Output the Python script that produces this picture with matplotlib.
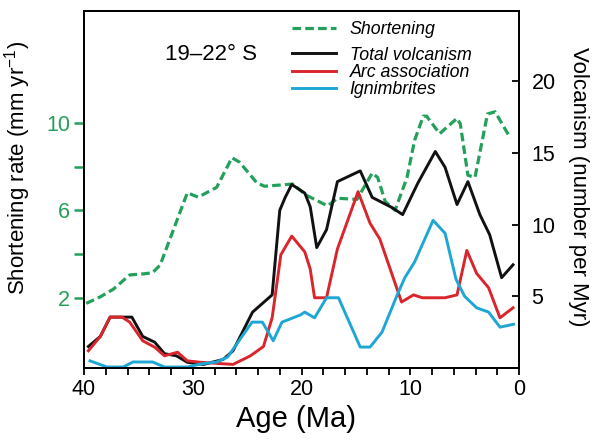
import matplotlib
matplotlib.use("Agg")
import matplotlib.pyplot as plt
from matplotlib.ticker import MultipleLocator, FixedLocator, NullFormatter

plt.rcParams["font.family"] = ["Liberation Sans", "DejaVu Sans"]
plt.rcParams["mathtext.fontset"] = "custom"
plt.rcParams["mathtext.rm"] = "Liberation Sans"

GREEN = "#23a05a"
RED = "#d9252b"
BLUE = "#1ea6d4"
BLACK = "#111111"

# shortening rate (mm/yr), left axis
age_short = [39.8, 38.5, 37.3, 35.8, 34.5, 33.7, 33.0, 30.5, 29.5, 27.8, 26.4,
             25.7, 24.1, 23.4, 20.8, 19.6, 17.6, 16.7, 14.9, 13.5, 13.0, 12.3,
             11.4, 10.3, 9.6, 8.8, 8.5, 7.3, 5.7, 5.4, 4.7, 4.05, 2.9, 2.2, 0.8]
shortening = [1.75, 2.05, 2.4, 3.05, 3.1, 3.15, 3.5, 6.8, 6.6, 7.05, 8.4,
              8.2, 7.25, 7.1, 7.2, 6.7, 6.2, 6.55, 6.5, 7.7, 7.5, 6.4,
              6.0, 7.5, 9.2, 10.3, 10.3, 9.5, 10.2, 9.95, 7.6, 7.5, 10.4, 10.5, 9.3]

# volcanism (number per Myr), right axis
age_total = [39.6, 38.5, 37.6, 35.6, 34.6, 33.5, 32.6, 31.5, 30.5, 29.0, 27.2,
             26.3, 24.5, 22.7, 22.0, 21.5, 20.9, 19.7, 19.2, 18.6, 17.7, 16.7,
             14.6, 13.5, 11.7, 10.7, 9.3, 7.7, 6.8, 5.7, 4.7, 3.6, 2.7, 1.6, 0.55]
total = [1.5, 2.2, 3.55, 3.55, 2.2, 1.8, 1.0, 0.85, 0.4, 0.25, 0.6,
         1.2, 3.9, 5.1, 11.0, 11.9, 12.8, 12.2, 11.25, 8.4, 9.65, 13.0,
         13.75, 11.9, 11.2, 10.7, 12.9, 15.1, 14.0, 11.4, 13.0, 10.7, 9.3, 6.3, 7.2]

age_arc = [39.6, 38.5, 37.6, 36.5, 35.8, 34.6, 33.5, 32.6, 31.4, 30.5, 29.3,
           26.3, 24.7, 23.5, 22.7, 21.9, 20.9, 19.7, 19.2, 18.8, 17.7, 16.7,
           14.8, 13.7, 12.8, 10.8, 9.7, 8.9, 6.8, 5.7, 4.8, 3.9, 2.8, 1.75, 0.55]
arc = [1.2, 2.2, 3.55, 3.55, 3.2, 1.9, 1.45, 0.85, 1.1, 0.5, 0.4,
       0.25, 0.85, 1.5, 3.5, 7.9, 9.2, 8.1, 6.9, 4.9, 4.9, 8.3,
       12.3, 10.1, 9.0, 4.6, 5.1, 4.9, 4.9, 5.1, 8.2, 6.6, 5.6, 3.5, 4.2]

age_ign = [39.45, 37.9, 36.4, 35.5, 33.7, 32.6, 30.5, 29.3, 27.8, 26.8, 26.3,
           24.55, 23.6, 22.6, 21.8, 20.1, 19.7, 18.8, 17.7, 16.6, 14.6, 13.7,
           12.6, 11.2, 10.5, 9.6, 7.9, 6.8, 5.8, 5.0, 3.9, 2.8, 1.75, 0.5]
ignimbrites = [0.5, 0.07, 0.07, 0.42, 0.42, 0.07, 0.07, 0.28, 0.42, 0.76, 1.3,
               3.2, 3.2, 1.9, 3.2, 3.7, 3.9, 3.5, 4.9, 4.9, 1.46, 1.46,
               2.5, 5.1, 6.3, 7.4, 10.3, 9.4, 6.2, 5.0, 4.2, 3.9, 2.85, 3.05]

fig = plt.figure(figsize=(5.95, 4.42), dpi=100)
ax1 = fig.add_axes([0.1412, 0.1674, 0.7311, 0.8077])
ax2 = ax1.twinx()

lw = 2.1
l_short, = ax1.plot(age_short, shortening, color=GREEN, lw=2.3,
                    linestyle=(0, (2.7, 1.3)), label="Shortening")
l_tot, = ax2.plot(age_total, total, color=BLACK, lw=lw, label="Total volcanism")
l_arc, = ax2.plot(age_arc, arc, color=RED, lw=lw, label="Arc association")
l_ign, = ax2.plot(age_ign, ignimbrites, color=BLUE, lw=lw, label="Ignimbrites")

ax1.set_xlim(40, 0)
ax1.set_ylim(-1.2, 15.1)
ax2.set_ylim(0, 24.9)

# x axis: labels every 10 Ma, ticks every 2 Ma
ax1.xaxis.set_major_locator(MultipleLocator(10))
ax1.xaxis.set_minor_locator(MultipleLocator(2))
ax1.tick_params(axis="x", which="both", direction="out", length=5, width=1.3,
                labelsize=15.5, pad=3)

# left axis: ticks at 2..10, labels only at 2, 6, 10
ax1.yaxis.set_major_locator(FixedLocator([2, 6, 10]))
ax1.yaxis.set_minor_locator(FixedLocator([4, 8]))
ax1.yaxis.set_minor_formatter(NullFormatter())
ax1.tick_params(axis="y", which="both", direction="out", length=7, width=1.8,
                color=GREEN, labelcolor=GREEN, labelsize=15.5, pad=3)

ax2.yaxis.set_major_locator(FixedLocator([5, 10, 15, 20]))
ax2.tick_params(axis="y", direction="in", length=5, width=1.3,
                labelsize=15.5, pad=9)

for ax in (ax1, ax2):
    for sp in ax.spines.values():
        sp.set_linewidth(1.3)

ax1.set_xlabel("Age (Ma)", fontsize=21)
ax1.xaxis.set_label_coords(0.487, -0.104)
ax1.set_ylabel("Shortening rate (mm yr$^{\\mathregular{-1}}$)", fontsize=16)
ax1.yaxis.set_label_coords(-0.117, 0.56)
ax2.set_ylabel("Volcanism (number per Myr)", fontsize=16, rotation=270,
               va="bottom")
ax2.yaxis.set_label_coords(1.113, 0.507)

ax1.text(0.186, 0.877, "19\u201322\u00b0 S", transform=ax1.transAxes,
         fontsize=16, ha="left", va="center")

leg_kw = dict(frameon=False, handlelength=2.5, handletextpad=0.75,
              borderpad=0, borderaxespad=0, labelspacing=0.02,
              prop={"style": "italic", "size": 12.8})
leg1 = ax2.legend(handles=[l_short], loc="upper left",
                  bbox_to_anchor=(0.478, 0.972), **leg_kw)
ax2.add_artist(leg1)
ax2.legend(handles=[l_tot, l_arc, l_ign], loc="upper left",
           bbox_to_anchor=(0.478, 0.900), **leg_kw)

fig.savefig("out.png", dpi=100)
